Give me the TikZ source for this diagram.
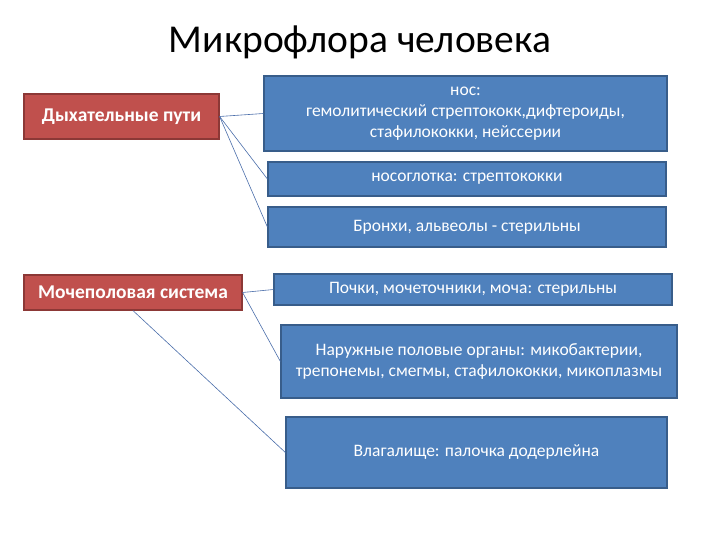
\documentclass[tikz,border=0pt]{standalone}
\usepackage{fontspec}
\setmainfont{Carlito}
\usetikzlibrary{positioning}
\definecolor{redfill}{RGB}{192,80,77}
\definecolor{reddraw}{RGB}{140,56,54}
\definecolor{bluefill}{RGB}{79,129,189}
\definecolor{bluedraw}{RGB}{56,93,138}
\definecolor{linkblue}{RGB}{74,110,170}

\begin{document}
\begin{tikzpicture}[
  x=1pt, y=-1pt,
  every node/.style={font=\fontsize{17.5}{21}\selectfont},
  group/.style={
    draw=reddraw,
    line width=1.2pt,
    fill=redfill,
    text=white,
    font=\fontsize{19.5}{23}\selectfont\bfseries,
    inner sep=0pt
  },
  site/.style={
    draw=bluedraw,
    line width=1.2pt,
    fill=bluefill,
    text=white,
    align=center,
    inner sep=0pt
  },
  link/.style={linkblue,line width=0.6pt}
]
\fill[white] (0,0) rectangle (720,540);
\node[font=\fontsize{39.5}{46}\selectfont] (title) at (360,42) {Микрофлора человека};
% left column
\node[group,minimum width=195pt,minimum height=45pt] (resp) at (121.5,116.5) {Дыхательные пути};
\node[group,minimum width=218pt,minimum height=35pt] (urog) at (133,292.5) {Мочеполовая система};
% right column
\node[site,minimum width=403pt,minimum height=75pt] (nose) at (465.5,113.5)
  {нос:\\гемолитический стрептококк,дифтероиды,\\стафилококки, нейссерии};
\node[site,minimum width=398pt,minimum height=34pt] (phar) at (467,179) {носоглотка: стрептококки};
\node[site,minimum width=398pt,minimum height=40pt] (bron) at (467,227) {Бронхи, альвеолы - стерильны};
\node[site,minimum width=398pt,minimum height=31pt] (kidn) at (473,289.5) {Почки, мочеточники, моча: стерильны};
\node[site,minimum width=396pt,minimum height=73pt] (extg) at (479,361.5)
  {Наружные половые органы: микобактерии,\\трепонемы, смегмы, стафилококки, микоплазмы};
\node[site,minimum width=381pt,minimum height=71pt] (vagi) at (476.5,452.5) {Влагалище: палочка додерлейна};
% connectors
\draw[link] (resp.east) -- (nose.west);
\draw[link] (resp.east) -- (phar.west);
\draw[link] (resp.east) -- (bron.west);
\draw[link] (urog.east) -- (kidn.west);
\draw[link] (urog.east) -- (extg.west);
\draw[link] (urog.south) -- (vagi.west);
\end{tikzpicture}
\end{document}
